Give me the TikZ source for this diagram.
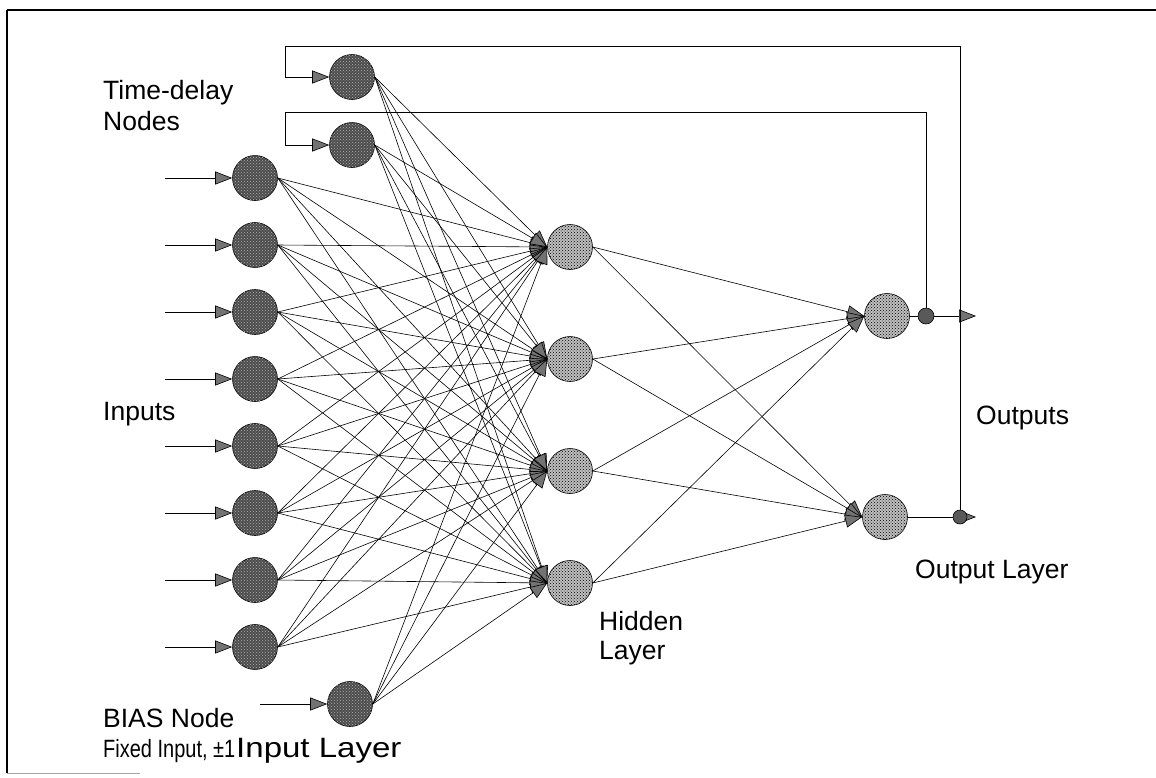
\documentclass[tikz,border=0pt]{standalone}
\usepackage{fontspec}
\setmainfont{Liberation Sans}
\usetikzlibrary{arrows.meta,patterns}
\begin{document}
\begin{tikzpicture}[x=1pt,y=-1pt,
  inn/.style={circle,draw,line width=0.6pt,minimum size=45pt,inner sep=0pt,fill=black!70,postaction={pattern=crosshatch dots,pattern color=white!70!black}},
  hid/.style={circle,draw,line width=0.6pt,minimum size=45pt,inner sep=0pt,fill=black!25,postaction={pattern=crosshatch dots,pattern color=black}},
  dotn/.style={circle,draw,line width=0.6pt,minimum size=16pt,inner sep=0pt,fill=black!65},
  tip/.style={line width=0.6pt,-{Triangle[length=17pt,width=13pt,fill=black!55]}},
  wire/.style={line width=0.6pt},
  lbl/.style={anchor=base west,font=\fontsize{26.5}{30}\selectfont,inner sep=0pt}
]
\useasboundingbox (0,0) rectangle (1156,777);
% frame
\draw[line width=2.5pt] (7,10) -- (1156,10);
\draw[line width=1.5pt] (7,10) -- (7,773);
\draw[black!35,line width=1pt] (7,773) -- (140,773);

% input layer
\foreach \i/\y in {1/178,2/245,3/312,4/379,5/446,6/513,7/580,8/647}{
  \node[inn] (i\i) at (255,\y) {};
  \coordinate (ia\i) at (165,\y);
}
\node[inn] (td1) at (352,77) {};
\node[inn] (td2) at (352,145) {};
\node[inn] (bias) at (350,704) {};
\coordinate (biasa) at (260,704);

% hidden layer
\foreach \j/\y in {1/247,2/359,3/471,4/583}{
  \node[hid] (h\j) at (570,\y) {};
}
% output layer
\node[hid] (o1) at (887,316) {};
\node[hid] (o2) at (885,517) {};
\coordinate (dot1) at (926,316);
\coordinate (dot2) at (960,517);
\coordinate (out1) at (976,316);
\coordinate (out2) at (976,517);

% input arrows
\foreach \i in {1,...,8}{ \draw[tip] (ia\i) -- (i\i.west); }
\draw[tip] (biasa) -- (bias.west);

% input -> hidden
\foreach \s in {i1,i2,i3,i4,i5,i6,i7,i8,td1,td2,bias}{
  \foreach \j in {1,...,4}{
    \draw[tip] (\s.east) -- (h\j.west);
  }
}
% hidden -> output
\foreach \j in {1,...,4}{
  \draw[tip] (h\j.east) -- (o1.west);
  \draw[tip] (h\j.east) -- (o2.west);
}
% outputs
\draw[wire] (o1.east) -- (dot1);
\draw[tip] (dot1) -- (out1);
\draw[tip] (o2.east) -- (out2);
% feedback to time-delay nodes
\draw[tip] (dot2) -- (dot2 |- 0,46) -- (285,46) |- (td1.west);
\draw[tip] (dot1) -- (dot1 |- 0,112) -- (285,112) |- (td2.west);
\node[dotn] (d1n) at (dot1) {};
\node[dotn,minimum size=14pt] (d2n) at (dot2) {};

% labels
\node[lbl] (ltd) at (103,99) {Time-delay};
\node[lbl] (ltd2) at (103,130) {Nodes};
\node[lbl] (lin) at (103,420) {Inputs};
\node[lbl] (lb1) at (103,727) {BIAS Node};
\node[lbl,font=\fontsize{25}{29}\selectfont] (lb2) at (103,757) {\scalebox{0.8}[1]{Fixed Input, ±1}};
\node[lbl,font=\fontsize{28}{32}\selectfont] (lil) at (236,757) {\scalebox{1.18}[1]{Input Layer}};
\node[lbl] (lh1) at (599,630) {Hidden};
\node[lbl] (lh2) at (599,659) {Layer};
\node[lbl] (lo) at (976,424) {Outputs};
\node[lbl] (lol) at (915,578) {Output Layer};
\end{tikzpicture}
\end{document}
